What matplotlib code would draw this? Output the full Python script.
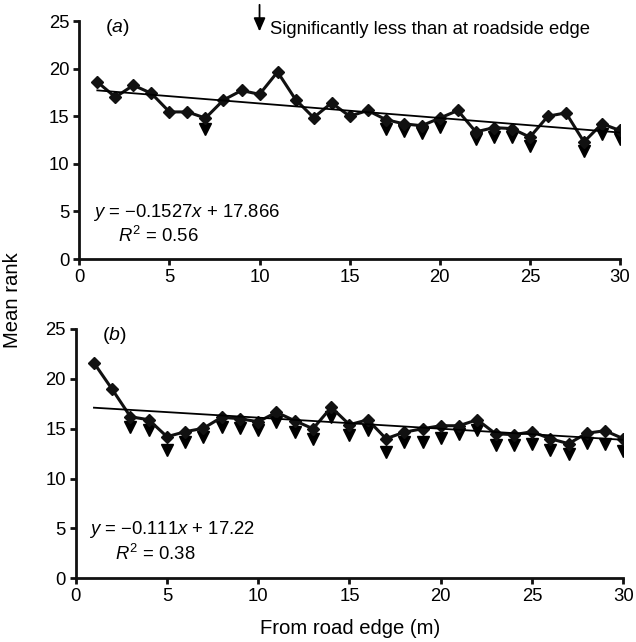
import matplotlib
matplotlib.use("Agg")
import matplotlib.pyplot as plt
import numpy as np

plt.rcParams['font.family'] = ['Liberation Sans', 'DejaVu Sans']
plt.rcParams['mathtext.fontset'] = 'custom'
plt.rcParams['mathtext.rm'] = 'Liberation Sans'
plt.rcParams['mathtext.it'] = 'Liberation Sans:italic'
plt.rcParams['mathtext.default'] = 'regular'

distance = list(range(1, 31))

rank_a = [18.6, 17.0, 18.25, 17.4, 15.45, 15.45, 14.8, 16.7, 17.7, 17.3,
          19.65, 16.75, 14.85, 16.4, 15.0, 15.6, 14.65, 14.2, 14.0, 14.8,
          15.6, 13.35, 13.8, 13.7, 12.8, 15.0, 15.35, 12.3, 14.2, 13.5]
sig_a_x = [7, 17, 18, 19, 20, 22, 23, 24, 25, 28, 29, 30]
sig_a_y = [13.7, 13.7, 13.4, 13.2, 13.9, 12.65, 12.8, 12.8, 11.9, 11.35, 13.1, 12.65]

rank_b = [21.6, 18.95, 16.2, 15.9, 14.2, 14.7, 15.05, 16.15, 16.0, 15.7,
          16.65, 15.8, 15.0, 17.15, 15.4, 15.9, 14.0, 14.65, 15.0, 15.3,
          15.3, 15.9, 14.5, 14.4, 14.7, 14.0, 13.5, 14.55, 14.8, 14.0]
sig_b_x = list(range(3, 31))
sig_b_y = [15.15, 14.9, 12.9, 13.7, 14.2, 15.2, 15.05, 14.9, 15.7, 14.7,
           14.0, 16.15, 14.4, 14.9, 12.7, 13.65, 13.65, 14.05, 14.5, 14.9,
           13.4, 13.4, 13.5, 12.9, 12.5, 13.55, 13.5, 12.8]

fit_a = (-0.1527, 17.866)
fit_b = (-0.111, 17.22)
eq_a = ["$\\it{y}$ = \u22120.1527$\\it{x}$ + 17.866", "$\\it{R}^2$ = 0.56"]
eq_b = ["$\\it{y}$ = \u22120.111$\\it{x}$ + 17.22", "$\\it{R}^2$ = 0.38"]
panel_labels = ["(\\it{a})", "(\\it{b})"]

W, H = 636, 642
fig = plt.figure(figsize=(W / 100, H / 100), dpi=100)


def box(l, r, t, b):
    return [l / W, 1 - b / H, (r - l) / W, (b - t) / H]


ax_a = fig.add_axes(box(79.3, 620, 21, 259))
ax_b = fig.add_axes(box(75.7, 623.3, 329, 578.3))

fs = 13.3


def draw(ax, rank, sx, sy, fit, eq, letter):
    x = np.array(distance)
    ax.plot(sx, sy, linestyle='none', marker='v', color='black', markersize=8.5, zorder=2)
    ax.plot(x, rank, color='#111111', lw=2.2, marker='D', markersize=6.5, zorder=3)
    xf = np.array([x[0], x[-1]])
    ax.plot(xf, fit[0] * xf + fit[1], color='black', lw=1.3, zorder=4)
    ax.set_xlim(0, 30)
    ax.set_ylim(0, 25)
    ax.set_xticks(range(0, 31, 5))
    ax.set_yticks(range(0, 26, 5))
    for s in ['top', 'right']:
        ax.spines[s].set_visible(False)
    for s in ['left', 'bottom']:
        ax.spines[s].set_linewidth(2.0)
        ax.spines[s].set_color('#111111')
    ax.tick_params(direction='out', length=4, width=2.0, labelsize=fs, pad=3,
                   color='#111111')
    ax.text(1.45, 24.3, "$" + letter + "$", fontsize=fs + 0.7, ha='left', va='center')
    ax.text(0.75, 4.85, eq[0], fontsize=fs, ha='left', va='center')
    ax.text(2.15, 2.45, eq[1], fontsize=fs, ha='left', va='center')


draw(ax_a, rank_a, sig_a_x, sig_a_y, fit_a, eq_a, panel_labels[0])
draw(ax_b, rank_b, sig_b_x, sig_b_y, fit_b, eq_b, panel_labels[1])

# significance key
ax_a.annotate("", xy=(10, 23.9), xytext=(10, 26.7),
              arrowprops=dict(arrowstyle='-|>,head_width=0.35,head_length=0.8',
                              color='black', lw=1.3, shrinkA=0, shrinkB=0),
              annotation_clip=False)
ax_a.text(10.6, 24.1, "Significantly less than at roadside edge", fontsize=fs,
          ha='left', va='center', clip_on=False)

fig.text(13 / W, 1 - 300 / H, "Mean rank", rotation=90, fontsize=fs + 1.3,
         ha='center', va='center')
fig.text(350 / W, 1 - 629 / H, "From road edge (m)", fontsize=fs + 1.3,
         ha='center', va='center')

fig.savefig("out.png", dpi=100)
